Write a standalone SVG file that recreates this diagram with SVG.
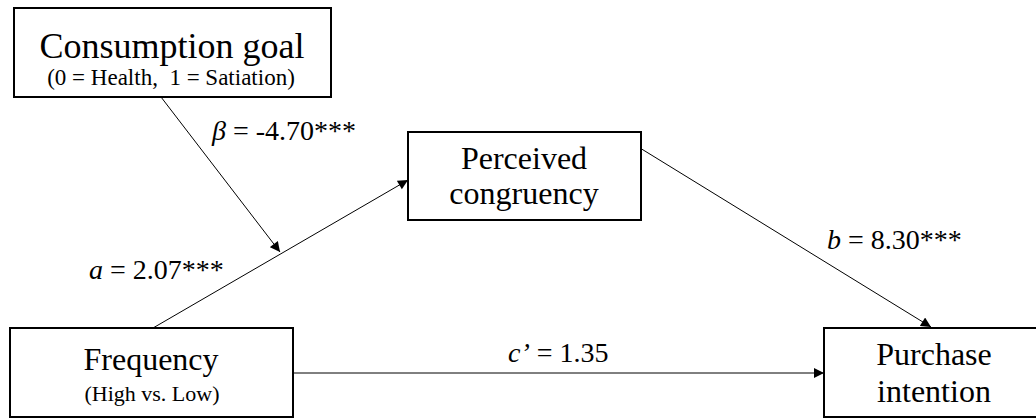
<svg xmlns="http://www.w3.org/2000/svg" width="1036" height="418" viewBox="0 0 1036 418">
<defs>
<style>
.box{fill:#fff;stroke:#000;stroke-width:2}
text{font-family:"Liberation Serif","Times New Roman",serif;fill:#000}
.t{text-anchor:middle}
.big{font-size:32px}
.head{font-size:36px}
.small{font-size:22px}
.sub{font-size:23px}
.lab{font-size:28px}
.edge{stroke:#000;stroke-width:1;fill:none;marker-end:url(#ah)}
</style>
<marker id="ah" viewBox="0 0 10 10" refX="10" refY="5" markerWidth="11" markerHeight="10" markerUnits="userSpaceOnUse" orient="auto">
<path d="M0,0 L10,5 L0,10 z" fill="#000"/>
</marker>
</defs>
<rect width="1036" height="418" fill="#fff"/>
<g id="connectors">
<line class="edge" x1="161" y1="97" x2="280" y2="252"/>
<line class="edge" x1="153" y1="328" x2="408" y2="180"/>
<line class="edge" x1="640" y1="148" x2="931" y2="327"/>
<line class="edge" x1="293" y1="373" x2="824" y2="373"/>
</g>
<g id="consumption-goal">
<rect class="box" x="14" y="8" width="317" height="89"/>
<text class="t head" x="172" y="58">Consumption goal</text>
<text class="t sub" x="171" y="85" xml:space="preserve">(0 = Health,  1 = Satiation)</text>
</g>
<g id="perceived-congruency">
<rect class="box" x="408" y="132" width="233" height="88"/>
<text class="t big" x="524" y="169">Perceived</text>
<text class="t big" x="524" y="204">congruency</text>
</g>
<g id="frequency">
<rect class="box" x="10" y="328" width="283" height="89"/>
<text class="t big" x="151" y="370">Frequency</text>
<text class="t small" x="152" y="401">(High vs. Low)</text>
</g>
<g id="purchase-intention">
<rect class="box" x="824" y="328" width="222" height="89"/>
<text class="t big" x="934" y="365">Purchase</text>
<text class="t big" x="934" y="402">intention</text>
</g>
<g id="labels">
<text class="lab" x="212" y="140"><tspan font-style="italic">β</tspan> = -4.70***</text>
<text class="lab" x="89" y="279"><tspan font-style="italic">a</tspan> = 2.07***</text>
<text class="lab" x="827" y="249"><tspan font-style="italic">b</tspan> = 8.30***</text>
<text class="lab" x="508" y="362"><tspan font-style="italic">c’</tspan> = 1.35</text>
</g>
</svg>
